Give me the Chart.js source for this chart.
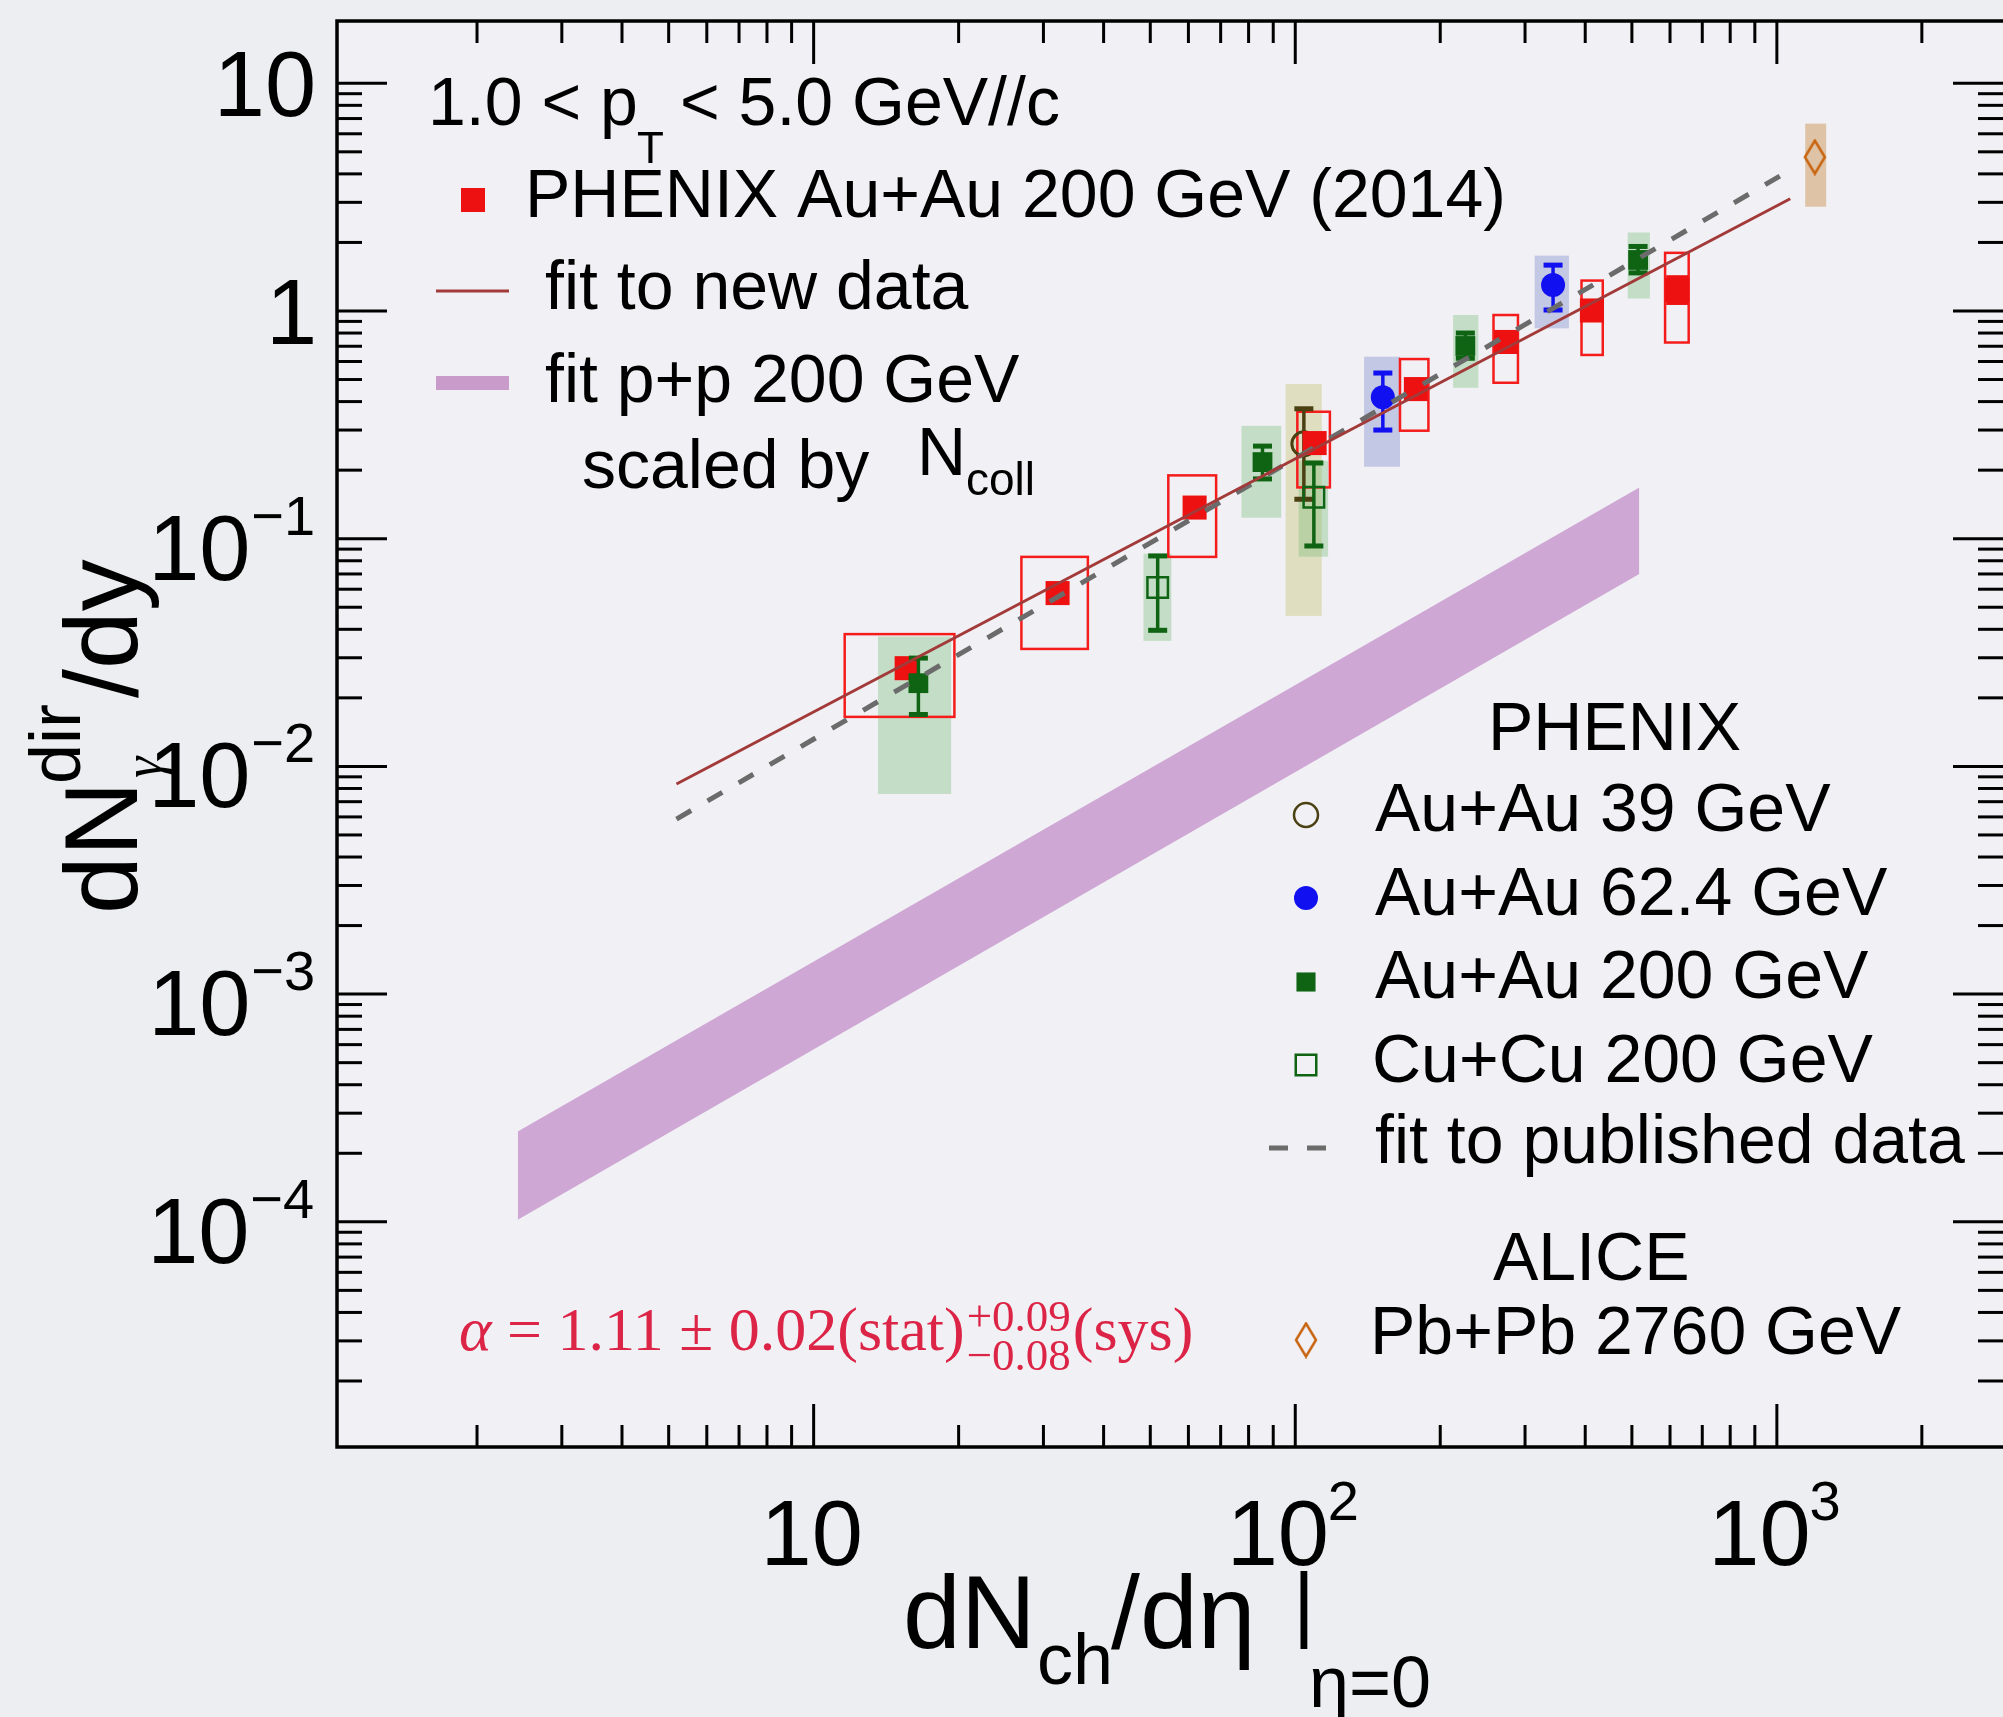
<!DOCTYPE html>
<html>
<head>
<meta charset="utf-8">
<script src="https://cdn.jsdelivr.net/npm/chart.js@4.4.1/dist/chart.umd.min.js"></script>
<style>
  html, body { margin: 0; padding: 0; background: #eceef1; }
  #wrap { width: 2003px; height: 1717px; }
</style>
</head>
<body>
<div id="wrap"><canvas id="myChart" width="2003" height="1717"></canvas></div>
<script>
// PHENIX Au+Au 200 GeV (2014) - red squares with open sys boxes
const newX = [15.6, 32.1, 61.8, 109.7, 178, 274, 413, 621];
const newY = [0.0270, 0.0577, 0.137, 0.263, 0.454, 0.731, 1.005, 1.236];
const newErrLo = [null, null, null, null, null, null, null, 1.09];
const newErrHi = [null, null, null, null, null, null, null, 1.40];
const newBoxXLo = [11.6, 27.0, 54.5, 101, 165, 258, 393, 586];
const newBoxXHi = [19.6, 37.1, 68.5, 118, 189, 290, 435, 656];
const newBoxYLo = [0.0165, 0.0328, 0.0832, 0.168, 0.298, 0.484, 0.641, 0.727];
const newBoxYHi = [0.0381, 0.0832, 0.1897, 0.361, 0.615, 0.960, 1.36, 1.80];

// PHENIX Au+Au 200 GeV (published)
const auX = [16.5, 85.5, 225.5, 515];
const auY = [0.0232, 0.217, 0.702, 1.675];
const auErrLo = [0.0169, 0.183, 0.62, 1.47];
const auErrHi = [0.0299, 0.255, 0.80, 1.92];
const auBoxXLo = [13.6, 77.3, 212.7, 490];
const auBoxXHi = [19.3, 93.5, 240, 545];
const auBoxYLo = [0.00757, 0.1236, 0.460, 1.135];
const auBoxYHi = [0.0372, 0.313, 0.960, 2.21];

// PHENIX Cu+Cu 200 GeV
const cuX = [51.8, 109.3];
const cuY = [0.0611, 0.152];
const cuErrLo = [0.0396, 0.0929];
const cuErrHi = [0.0840, 0.215];
const cuBoxXLo = [48.4, 101.6];
const cuBoxXHi = [55.3, 117];
const cuBoxYLo = [0.0356, 0.0834];
const cuBoxYHi = [0.0859, 0.220];

// PHENIX Au+Au 39 GeV
const au39X = [104.2];
const au39Y = [0.261];
const au39ErrLo = [0.149];
const au39ErrHi = [0.372];
const au39BoxXLo = [95.5];
const au39BoxXHi = [113.5];
const au39BoxYLo = [0.0458];
const au39BoxYHi = [0.478];

// PHENIX Au+Au 62.4 GeV
const au62X = [152, 343];
const au62Y = [0.418, 1.30];
const au62ErrLo = [0.300, 1.01];
const au62ErrHi = [0.534, 1.59];
const au62BoxXLo = [139, 314];
const au62BoxXHi = [165, 370];
const au62BoxYLo = [0.207, 0.839];
const au62BoxYHi = [0.630, 1.75];

// ALICE Pb+Pb 2760 GeV
const aliceX = [1199];
const aliceY = [4.74];
const aliceBoxXLo = [1145];
const aliceBoxXHi = [1266];
const aliceBoxYLo = [2.87];
const aliceBoxYHi = [6.65];

// fits (end points of straight lines in log-log)
const fitNewX = [5.19, 1066];
const fitNewY = [0.00837, 3.11];
const fitPubX = [5.19, 1081];
const fitPubY = [0.00587, 4.23];
const ppBandX = [2.43, 518];
const ppBandHi = [2.49e-4, 0.168];
const ppBandLo = [1.02e-4, 0.070];

// axes
const xRange = [1.024, 2948];
const yRange = [1.026e-5, 18.77];
const xTickValues = [10, 100, 1000];
const xTickBase = ['10', '10', '10'];
const xTickExp = ['', '2', '3'];
const yTickValues = [1e-4, 1e-3, 1e-2, 1e-1, 1, 10];
const yTickBase = ['10', '10', '10', '10', '1', '10'];
const yTickExp = ['\u22124', '\u22123', '\u22122', '\u22121', '', ''];

const SANS = '"Liberation Sans", Arial, sans-serif';
const SERIF = '"Liberation Serif", "Times New Roman", serif';

const RED = '#ee1111';
const GREEN = '#0f6414';
const BLUE = '#1010f0';
const OLIVE = '#4a4012';
const ORANGE = '#c8640f';

function xy(xs, ys) {
  return xs.map((v, i) => ({x: v, y: ys[i]}));
}

function diamondMarker(w, h, color) {
  const c = document.createElement('canvas');
  c.width = w + 4;
  c.height = h + 4;
  const g = c.getContext('2d');
  g.strokeStyle = color;
  g.lineWidth = 2.5;
  g.beginPath();
  g.moveTo(c.width / 2, 2);
  g.lineTo(c.width - 2, c.height / 2);
  g.lineTo(c.width / 2, c.height - 2);
  g.lineTo(2, c.height / 2);
  g.closePath();
  g.stroke();
  return c;
}
const diamond = diamondMarker(20, 33, ORANGE);

// text with its ink starting at x
function inkText(ctx, t, x, y) {
  const m = ctx.measureText(t);
  const ox = x + m.actualBoundingBoxLeft;
  ctx.fillText(t, ox, y);
  return ox + m.width;
}

function drawBoxes(chart, xLo, xHi, yLo, yHi, fill, stroke) {
  const {ctx, scales: {x, y}} = chart;
  for (let i = 0; i < xLo.length; i++) {
    const l = x.getPixelForValue(xLo[i]), r = x.getPixelForValue(xHi[i]);
    const t = y.getPixelForValue(yHi[i]), b = y.getPixelForValue(yLo[i]);
    if (fill) {
      ctx.fillStyle = fill;
      ctx.fillRect(l, t, r - l, b - t);
    }
    if (stroke) {
      ctx.strokeStyle = stroke;
      ctx.lineWidth = 2.5;
      ctx.strokeRect(l, t, r - l, b - t);
    }
  }
}

const paperPlugin = {
  id: 'paper',
  beforeDraw(chart) {
    const {ctx, chartArea: a} = chart;
    ctx.save();
    ctx.fillStyle = '#eceef1';
    ctx.fillRect(0, 0, chart.width, chart.height);
    ctx.fillStyle = '#f1f1f5';
    ctx.fillRect(a.left, a.top, a.right - a.left, a.bottom - a.top);
    ctx.restore();
  },
  beforeDatasetsDraw(chart) {
    const ctx = chart.ctx;
    ctx.save();
    drawBoxes(chart, au39BoxXLo, au39BoxXHi, au39BoxYLo, au39BoxYHi, 'rgba(200,195,120,0.42)');
    drawBoxes(chart, auBoxXLo, auBoxXHi, auBoxYLo, auBoxYHi, 'rgba(120,190,120,0.38)');
    drawBoxes(chart, cuBoxXLo, cuBoxXHi, cuBoxYLo, cuBoxYHi, 'rgba(120,190,120,0.38)');
    drawBoxes(chart, au62BoxXLo, au62BoxXHi, au62BoxYLo, au62BoxYHi, 'rgba(120,135,200,0.38)');
    drawBoxes(chart, aliceBoxXLo, aliceBoxXHi, aliceBoxYLo, aliceBoxYHi, 'rgba(200,140,70,0.45)');
    drawBoxes(chart, newBoxXLo, newBoxXHi, newBoxYLo, newBoxYHi, null, '#f51c1c');
    ctx.restore();
  },
  afterDatasetDraw(chart, args) {
    const ds = chart.data.datasets[args.index];
    if (!ds.errLo) return;
    const {ctx, scales: {x, y}} = chart;
    ctx.save();
    ctx.strokeStyle = ds.errColor;
    ctx.fillStyle = ds.errColor;
    ctx.lineWidth = 3.5;
    ds.data.forEach((p, i) => {
      if (ds.errLo[i] == null) return;
      const X = x.getPixelForValue(p.x);
      const y1 = y.getPixelForValue(ds.errLo[i]), y2 = y.getPixelForValue(ds.errHi[i]);
      ctx.beginPath();
      ctx.moveTo(X, y1);
      ctx.lineTo(X, y2);
      ctx.stroke();
      ctx.fillRect(X - ds.capW / 2, y1 - 2.5, ds.capW, 5);
      ctx.fillRect(X - ds.capW / 2, y2 - 2.5, ds.capW, 5);
    });
    ctx.restore();
  },
  afterDatasetsDraw(chart) {
    const {ctx, chartArea: a, scales: {x, y}} = chart;
    ctx.save();
    ctx.strokeStyle = '#000';
    ctx.lineWidth = 3;
    const seg = (x1, y1, x2, y2) => { ctx.beginPath(); ctx.moveTo(x1, y1); ctx.lineTo(x2, y2); ctx.stroke(); };
    for (let e = -6; e <= 1; e++) {
      for (let k = 1; k <= 9; k++) {
        const v = k * Math.pow(10, e);
        if (v < y.min || v > y.max) continue;
        const p = y.getPixelForValue(v), len = k === 1 ? 50 : 25;
        seg(a.left, p, a.left + len, p);
        seg(a.right, p, a.right - len, p);
      }
    }
    for (let e = 0; e <= 3; e++) {
      for (let k = 1; k <= 9; k++) {
        const v = k * Math.pow(10, e);
        if (v < x.min || v > x.max) continue;
        const p = x.getPixelForValue(v), len = k === 1 ? 43 : 22;
        seg(p, a.bottom, p, a.bottom - len);
        seg(p, a.top, p, a.top + len);
      }
    }
    // frame: the right side sits on the page edge, so only three sides show
    ctx.lineWidth = 3.5;
    ctx.beginPath();
    ctx.moveTo(a.right, a.top);
    ctx.lineTo(a.left, a.top);
    ctx.lineTo(a.left, a.bottom);
    ctx.lineTo(a.right, a.bottom);
    ctx.stroke();
    ctx.restore();
  },
  afterDraw(chart) {
    const {ctx, scales: {x, y}} = chart;
    const H = Chart.helpers;
    ctx.save();
    ctx.fillStyle = '#000';
    ctx.textAlign = 'left';
    ctx.textBaseline = 'alphabetic';

    // y tick labels, ink right edge at 313
    yTickValues.forEach((v, i) => {
      const p = y.getPixelForValue(v);
      let right = 313;
      if (yTickExp[i]) {
        ctx.font = '56px ' + SANS;
        const m = ctx.measureText(yTickExp[i]);
        ctx.fillText(yTickExp[i], right - m.actualBoundingBoxRight, p - 4);
        right -= m.actualBoundingBoxRight + m.actualBoundingBoxLeft + 6;
        ctx.font = '92px ' + SANS;
        const mb = ctx.measureText(yTickBase[i]);
        ctx.fillText(yTickBase[i], right - mb.actualBoundingBoxRight, p + 41);
      } else {
        ctx.font = '92px ' + SANS;
        const mb = ctx.measureText(yTickBase[i]);
        ctx.fillText(yTickBase[i], right - mb.actualBoundingBoxRight, p + 33);
      }
    });

    // x tick labels, ink centred on tick
    xTickValues.forEach((v, i) => {
      const p = x.getPixelForValue(v);
      ctx.font = '92px ' + SANS;
      const mb = ctx.measureText(xTickBase[i]);
      const w = mb.actualBoundingBoxRight + mb.actualBoundingBoxLeft;
      let ws = 0, ms = null;
      if (xTickExp[i]) {
        ctx.font = '56px ' + SANS;
        ms = ctx.measureText(xTickExp[i]);
        ws = ms.actualBoundingBoxRight + ms.actualBoundingBoxLeft + 4;
      }
      const left = p - (w + ws) / 2;
      ctx.font = '92px ' + SANS;
      ctx.fillText(xTickBase[i], left + mb.actualBoundingBoxLeft, 1565);
      if (ms) {
        ctx.font = '56px ' + SANS;
        ctx.fillText(xTickExp[i], left + w + 4 + ms.actualBoundingBoxLeft, 1520);
      }
    });

    // x title
    ctx.font = '104px ' + SANS;
    ctx.fillText('dN', 903, 1648);
    ctx.font = '72px ' + SANS;
    ctx.fillText('ch', 1037, 1684);
    ctx.font = '104px ' + SANS;
    ctx.fillText('/d\u03b7', 1111, 1648);
    ctx.font = '84px ' + SANS;
    ctx.fillText('|', 1293, 1632);
    ctx.font = '72px ' + SANS;
    ctx.fillText('\u03b7=0', 1309, 1707);

    // y title (rotated)
    ctx.save();
    ctx.translate(137, 910);
    ctx.rotate(-Math.PI / 2);
    ctx.font = '104px ' + SANS;
    ctx.fillText('dN', -4, 0);
    ctx.font = '72px ' + SANS;
    ctx.fillText('dir', 126, -57);
    ctx.font = 'italic 54px ' + SERIF;
    ctx.fillText('\u03b3', 132, 24);
    ctx.font = '104px ' + SANS;
    ctx.fillText('/dy', 212, 0);
    ctx.restore();

    // top-left legend
    ctx.font = '68px ' + SANS;
    inkText(ctx, '1.0 < p', 433, 125);
    ctx.font = '44px ' + SANS;
    inkText(ctx, 'T', 637, 163);
    ctx.font = '68px ' + SANS;
    inkText(ctx, '< 5.0 GeV//c', 683, 125);

    ctx.fillStyle = RED;
    H.drawPoint(ctx, {pointStyle: 'rect', radius: 17, borderWidth: 0, rotation: 0}, 473, 200);
    ctx.fillStyle = '#000';
    ctx.font = '68px ' + SANS;
    inkText(ctx, 'PHENIX Au+Au 200 GeV (2014)', 530, 217);

    ctx.strokeStyle = '#a33a3a';
    ctx.lineWidth = 3;
    ctx.beginPath(); ctx.moveTo(436, 291); ctx.lineTo(509, 291); ctx.stroke();
    inkText(ctx, 'fit to new data', 545, 309);

    ctx.fillStyle = '#c99bcb';
    ctx.fillRect(436, 376, 73, 14);
    ctx.fillStyle = '#000';
    inkText(ctx, 'fit p+p 200 GeV', 545, 402);
    inkText(ctx, 'scaled by', 583, 488);
    inkText(ctx, 'N', 922, 475);
    ctx.font = '46px ' + SANS;
    inkText(ctx, 'coll', 967, 495);

    // right legend
    ctx.font = '68px ' + SANS;
    inkText(ctx, 'PHENIX', 1493, 750);
    ctx.strokeStyle = OLIVE;
    ctx.fillStyle = 'rgba(0,0,0,0)';
    ctx.lineWidth = 2.5;
    H.drawPoint(ctx, {pointStyle: 'circle', radius: 12, borderWidth: 2.5, rotation: 0}, 1306, 815);
    ctx.fillStyle = BLUE;
    H.drawPoint(ctx, {pointStyle: 'circle', radius: 12, borderWidth: 0, rotation: 0}, 1306, 898);
    ctx.fillStyle = GREEN;
    H.drawPoint(ctx, {pointStyle: 'rect', radius: 13.5, borderWidth: 0, rotation: 0}, 1306, 982);
    ctx.strokeStyle = GREEN;
    ctx.fillStyle = 'rgba(0,0,0,0)';
    H.drawPoint(ctx, {pointStyle: 'rect', radius: 14.5, borderWidth: 2.5, rotation: 0}, 1306, 1065);
    ctx.strokeStyle = '#6b6b6b';
    ctx.lineWidth = 5;
    ctx.setLineDash([19, 19]);
    ctx.beginPath(); ctx.moveTo(1269, 1148); ctx.lineTo(1327, 1148); ctx.stroke();
    ctx.setLineDash([]);
    H.drawPoint(ctx, {pointStyle: diamond, radius: 12, borderWidth: 0, rotation: 0}, 1306, 1340);

    ctx.fillStyle = '#000';
    inkText(ctx, 'Au+Au 39 GeV', 1375, 831);
    inkText(ctx, 'Au+Au 62.4 GeV', 1375, 915);
    inkText(ctx, 'Au+Au 200 GeV', 1375, 998);
    inkText(ctx, 'Cu+Cu 200 GeV', 1375, 1082);
    inkText(ctx, 'fit to published data', 1375, 1163);
    inkText(ctx, 'ALICE', 1493, 1280);
    inkText(ctx, 'Pb+Pb 2760 GeV', 1375, 1354);

    // power-law exponent
    ctx.fillStyle = '#dc2447';
    ctx.font = 'italic 62px ' + SERIF;
    let cx = inkText(ctx, '\u03b1', 460, 1350);
    ctx.font = '62px ' + SERIF;
    ctx.fillText(' = 1.11 \u00b1 0.02(stat)', cx, 1350);
    cx += ctx.measureText(' = 1.11 \u00b1 0.02(stat)').width + 2;
    ctx.font = '45px ' + SERIF;
    ctx.fillText('+0.09', cx, 1331);
    ctx.fillText('\u22120.08', cx, 1370);
    cx += Math.max(ctx.measureText('+0.09').width, ctx.measureText('\u22120.08').width) + 2;
    ctx.font = '62px ' + SERIF;
    ctx.fillText('(sys)', cx, 1350);
    ctx.restore();
  }
};

const chartCtx = document.getElementById('myChart').getContext('2d');
const dNdyChart = new Chart(chartCtx, {
  type: 'scatter',
  data: {
    datasets: [{
      label: 'fit to new data',
      data: xy(fitNewX, fitNewY),
      showLine: true,
      pointRadius: 0,
      borderColor: '#a33a3a',
      borderWidth: 3,
      order: 0
    }, {
      label: 'fit to published data',
      data: xy(fitPubX, fitPubY),
      showLine: true,
      pointRadius: 0,
      borderColor: '#6b6b6b',
      borderWidth: 5,
      borderDash: [17, 19],
      order: 0
    }, {
      label: 'fit p+p 200 GeV upper',
      data: xy(ppBandX, ppBandHi),
      showLine: true,
      pointRadius: 0,
      borderWidth: 0,
      borderColor: 'rgba(0,0,0,0)',
      fill: false,
      order: 20
    }, {
      label: 'fit p+p 200 GeV scaled by Ncoll',
      data: xy(ppBandX, ppBandLo),
      showLine: true,
      pointRadius: 0,
      borderWidth: 0,
      borderColor: 'rgba(0,0,0,0)',
      fill: '-1',
      backgroundColor: 'rgba(192,138,200,0.72)',
      order: 20
    }, {
      label: 'Au+Au 39 GeV',
      data: xy(au39X, au39Y),
      pointStyle: 'circle',
      pointRadius: 12,
      pointBorderWidth: 3,
      pointBorderColor: OLIVE,
      pointBackgroundColor: 'rgba(0,0,0,0)',
      errLo: au39ErrLo, errHi: au39ErrHi, errColor: OLIVE, capW: 19,
      order: 6
    }, {
      label: 'Cu+Cu 200 GeV',
      data: xy(cuX, cuY),
      pointStyle: 'rect',
      pointRadius: 14.5,
      pointBorderWidth: 2.5,
      pointBorderColor: GREEN,
      pointBackgroundColor: 'rgba(0,0,0,0)',
      errLo: cuErrLo, errHi: cuErrHi, errColor: GREEN, capW: 19,
      order: 5
    }, {
      label: 'PHENIX Au+Au 200 GeV (2014)',
      data: xy(newX, newY),
      pointStyle: 'rect',
      pointRadius: 17,
      pointBorderWidth: 0,
      pointBackgroundColor: RED,
      errLo: newErrLo, errHi: newErrHi, errColor: RED, capW: 22,
      order: 4
    }, {
      label: 'Au+Au 200 GeV',
      data: xy(auX, auY),
      pointStyle: 'rect',
      pointRadius: 14,
      pointBorderWidth: 0,
      pointBackgroundColor: GREEN,
      errLo: auErrLo, errHi: auErrHi, errColor: GREEN, capW: 19,
      order: 3
    }, {
      label: 'Au+Au 62.4 GeV',
      data: xy(au62X, au62Y),
      pointStyle: 'circle',
      pointRadius: 12,
      pointBorderWidth: 0,
      pointBackgroundColor: BLUE,
      errLo: au62ErrLo, errHi: au62ErrHi, errColor: BLUE, capW: 19,
      order: 3
    }, {
      label: 'ALICE Pb+Pb 2760 GeV',
      data: xy(aliceX, aliceY),
      pointStyle: diamond,
      pointRadius: 12,
      order: 3
    }]
  },
  options: {
    responsive: false,
    animation: false,
    devicePixelRatio: 1,
    events: [],
    layout: {autoPadding: false, padding: {left: 337, top: 21, right: 0, bottom: 270}},
    elements: {line: {tension: 0}},
    plugins: {legend: {display: false}, tooltip: {enabled: false}},
    scales: {
      x: {type: 'logarithmic', min: xRange[0], max: xRange[1], display: false, bounds: 'data'},
      y: {type: 'logarithmic', min: yRange[0], max: yRange[1], display: false, bounds: 'data'}
    }
  },
  plugins: [paperPlugin]
});
</script>
</body>
</html>
